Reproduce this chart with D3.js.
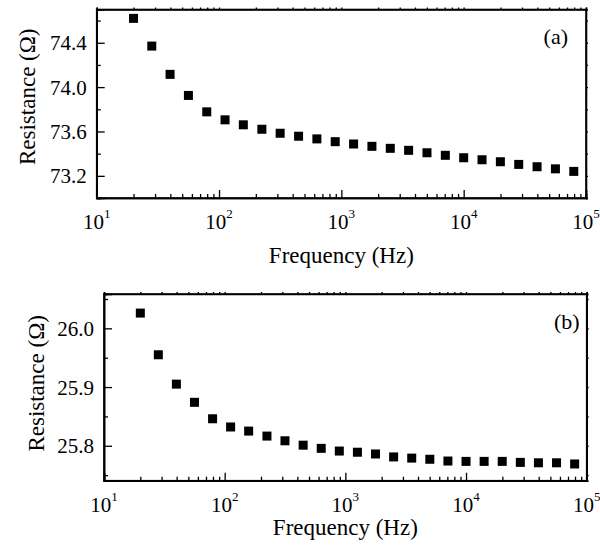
<!DOCTYPE html>
<html>
<head>
<meta charset="utf-8">
<script src="https://cdn.jsdelivr.net/npm/d3@7"></script>
<style>
html, body { margin: 0; padding: 0; background: #fff; }
svg { display: block; }
</style>
</head>
<body>
<svg id="chart" width="600" height="554"></svg>
<script>
// ---------- data ----------
const frequency = [20, 28.2, 39.8, 56.2, 79.4, 112, 158, 224, 316, 447, 631, 891, 1259, 1778, 2512, 3548, 5012, 7079, 10000, 14125, 19953, 28184, 39811, 56234, 79433];
const resistanceA = [74.62, 74.37, 74.115, 73.925, 73.777, 73.705, 73.66, 73.62, 73.584, 73.557, 73.533, 73.508, 73.487, 73.466, 73.448, 73.43, 73.408, 73.385, 73.363, 73.345, 73.327, 73.303, 73.282, 73.263, 73.24];
const resistanceB = [26.026, 25.955, 25.905, 25.874, 25.846, 25.832, 25.825, 25.8165, 25.8085, 25.801, 25.7956, 25.791, 25.789, 25.786, 25.781, 25.779, 25.777, 25.774, 25.7734, 25.7734, 25.7734, 25.7717, 25.771, 25.771, 25.769];
const xMajorTicks = [10, 100, 1000, 10000, 100000];
const xMajorExponents = ["1", "2", "3", "4", "5"];
const yTicksA = [73.2, 73.6, 74.0, 74.4];
const yMinorA = [73.0, 73.4, 73.8, 74.2, 74.6];
const yTicksB = [25.8, 25.9, 26.0];
const yMinorB = [25.75, 25.85, 25.95, 26.05];
const panelLabels = ["(a)", "(b)"];
const xTitle = "Frequency (Hz)";
const yTitle = "Resistance (\u03A9)";

// ---------- layout ----------
const FONT = "'Liberation Serif', 'Times New Roman', Times, serif";
const svg = d3.select("#chart").attr("font-family", FONT);
const panels = [
  { left: 96.7, right: 586, top: 9.5, bottom: 198, domain: [73.0, 74.7], values: resistanceA, major: yTicksA, minor: yMinorA, label: panelLabels[0],
    xTitleDy: 65, yTitleX: 35, yTitleShift: -7, labelRight: 18, labelY: 34 },
  { left: 104, right: 586.7, top: 294, bottom: 480.7, domain: [25.7405, 26.0585], values: resistanceB, major: yTicksB, minor: yMinorB, label: panelLabels[1],
    xTitleDy: 54, yTitleX: 44, yTitleShift: -4, labelRight: 7, labelY: 35 }
];

const xMinorTicks = [];
for (let e = 1; e < 5; e++) for (let m = 2; m <= 9; m++) xMinorTicks.push(m * Math.pow(10, e));

const fontTick = 21, fontTitle = 23, stroke = 1.6, marker = 9;

panels.forEach(p => {
  const w = p.right - p.left, h = p.bottom - p.top;
  const x = d3.scaleLog().domain([10, 100000]).range([0, w]);
  const y = d3.scaleLinear().domain(p.domain).range([h, 0]);
  const g = svg.append("g").attr("transform", `translate(${p.left},${p.top})`);

  g.append("g").attr("transform", `translate(0,${h})`)
    .call(d3.axisBottom(x).tickValues(xMajorTicks).tickSize(-8).tickFormat(""));
  g.append("g").attr("transform", `translate(0,${h})`)
    .call(d3.axisBottom(x).tickValues(xMinorTicks).tickSize(-4).tickFormat(""));
  g.append("g")
    .call(d3.axisTop(x).tickValues(xMajorTicks.concat(xMinorTicks)).tickSize(2).tickFormat(""));
  const lMaj = g.append("g")
    .call(d3.axisLeft(y).tickValues(p.major).tickSize(-8).tickPadding(10).tickFormat(d3.format(".1f")));
  g.append("g")
    .call(d3.axisLeft(y).tickValues(p.minor).tickSize(-4).tickFormat(""));
  g.append("g").attr("transform", `translate(${w},0)`)
    .call(d3.axisRight(y).tickValues(p.major.concat(p.minor)).tickSize(2).tickFormat(""));

  g.selectAll("g").attr("font-family", FONT);
  g.selectAll(".domain").attr("stroke", "#000").attr("stroke-width", stroke);
  g.selectAll(".tick line").attr("stroke", "#000").attr("stroke-width", 1.3);
  lMaj.selectAll("text").attr("font-size", fontTick).attr("font-family", FONT).attr("fill", "#000").attr("dy", "0.34em");

  g.append("rect").attr("x", 0).attr("y", 0).attr("width", w).attr("height", h)
    .attr("fill", "none").attr("stroke", "#000").attr("stroke-width", stroke);

  xMajorTicks.forEach((t, i) => {
    const txt = g.append("text").attr("x", x(t)).attr("y", h + 31)
      .attr("text-anchor", "middle").attr("font-size", fontTick).attr("font-family", FONT);
    txt.append("tspan").text("10");
    txt.append("tspan").attr("font-size", 13).attr("dy", -11).text(xMajorExponents[i]);
  });

  g.append("text").attr("x", w / 2).attr("y", h + p.xTitleDy)
    .attr("text-anchor", "middle").attr("font-size", fontTitle).attr("font-family", FONT).text(xTitle);
  g.append("text")
    .attr("transform", `translate(${-p.left + p.yTitleX},${h / 2 + p.yTitleShift}) rotate(-90)`)
    .attr("text-anchor", "middle").attr("font-size", fontTitle).attr("font-family", FONT).text(yTitle);

  g.append("text").attr("x", w - p.labelRight).attr("y", p.labelY)
    .attr("text-anchor", "end").attr("font-size", 22).attr("font-family", FONT).text(p.label);

  g.selectAll("rect.pt").data(frequency.map((f, i) => [f, p.values[i]])).enter()
    .append("rect").attr("class", "pt")
    .attr("x", d => x(d[0]) - marker / 2).attr("y", d => y(d[1]) - marker / 2)
    .attr("width", marker).attr("height", marker).attr("fill", "#000");
});
</script>
</body>
</html>
